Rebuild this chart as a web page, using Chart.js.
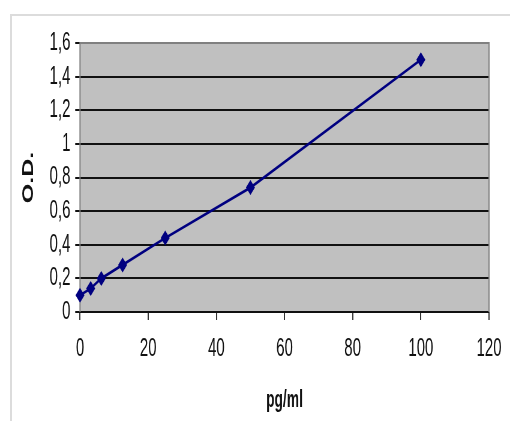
<!DOCTYPE html>
<html>
<head>
<meta charset="utf-8">
<script src="https://cdn.jsdelivr.net/npm/chart.js@4"></script>
<style>
  html, body { margin:0; padding:0; overflow:hidden; background:#fff; width:510px; height:421px; }
  #frame { position:absolute; left:10px; top:14px; width:520px; height:420px;
           border-top:2px solid #dcdcdc; border-left:2px solid #dcdcdc; }
  #c { position:absolute; left:0; top:0; width:850px; height:421px;
       transform:scaleX(0.6); transform-origin:0 0; }
</style>
</head>
<body>
<div id="frame"></div>
<canvas id="c" width="850" height="421"></canvas>
<script>
// Data
const concentrations = [0, 3.125, 6.25, 12.5, 25, 50, 100];
const odValues = [0.10, 0.14, 0.20, 0.28, 0.44, 0.74, 1.50];
const xTickRange = [0, 120, 20];     // min, max, step
const yTickRange = [0, 1.6, 0.2];
const xTitle = 'pg/ml';
const yTitle = 'O.D.';

const points = concentrations.map((c, i) => ({ x: c, y: odValues[i] }));
const FONT = "'Liberation Sans', Arial, sans-serif";

const plotArea = {
  id: 'plotArea',
  beforeDraw(chart) {
    const { ctx, chartArea: a } = chart;
    ctx.save();
    ctx.fillStyle = '#c0c0c0';
    ctx.fillRect(a.left, a.top, a.right - a.left, a.bottom - a.top);
    ctx.restore();
  },
  beforeDatasetsDraw(chart) {
    const { ctx, chartArea: a } = chart;
    ctx.save();
    ctx.strokeStyle = '#808080';
    ctx.lineWidth = 2;
    ctx.beginPath();
    ctx.moveTo(a.left, a.bottom);
    ctx.lineTo(a.left, a.top);
    ctx.lineTo(a.right, a.top);
    ctx.lineTo(a.right, a.bottom);
    ctx.stroke();
    ctx.restore();
  }
};

new Chart(document.getElementById('c'), {
  type: 'scatter',
  data: {
    datasets: [{
      data: points,
      showLine: true,
      borderColor: '#000080',
      borderWidth: 2.8,
      backgroundColor: '#000080',
      pointStyle: 'rectRot',
      pointRadius: 7.5,
      pointHoverRadius: 7.5,
      pointBorderWidth: 0,
      clip: false
    }]
  },
  options: {
    responsive: false,
    animation: false,
    devicePixelRatio: 1,
    layout: { padding: { top: 43, right: 35, left: 0, bottom: 0 } },
    plugins: { legend: { display: false }, tooltip: { enabled: false } },
    scales: {
      x: {
        type: 'linear',
        min: xTickRange[0], max: xTickRange[1],
        afterFit: s => { s.height = 109; },
        grid: { drawOnChartArea: false, drawTicks: true, tickLength: 8, color: '#333', lineWidth: 2 },
        border: { display: false },
        ticks: { stepSize: xTickRange[2], padding: 14, color: '#111', font: { family: FONT, size: 25 } },
        title: { display: true, text: xTitle, color: '#111', padding: { top: 0, bottom: 7 },
                 font: { family: FONT, size: 23, weight: 'bold' } }
      },
      y: {
        min: yTickRange[0], max: yTickRange[1],
        afterFit: s => { s.width = 133.33; },
        grid: { drawTicks: true, tickLength: 8, color: '#111', lineWidth: 2 },
        border: { display: false },
        ticks: {
          stepSize: yTickRange[2], padding: 8, color: '#111',
          font: { family: FONT, size: 25 },
          callback: v => String(Math.round(v * 10) / 10).replace('.', ',')
        },
        title: { display: true, text: yTitle, color: '#111', padding: { top: 33, bottom: 0 },
                 font: { family: FONT, size: 25, weight: 'bold' } }
      }
    }
  },
  plugins: [plotArea]
});
</script>
</body>
</html>
